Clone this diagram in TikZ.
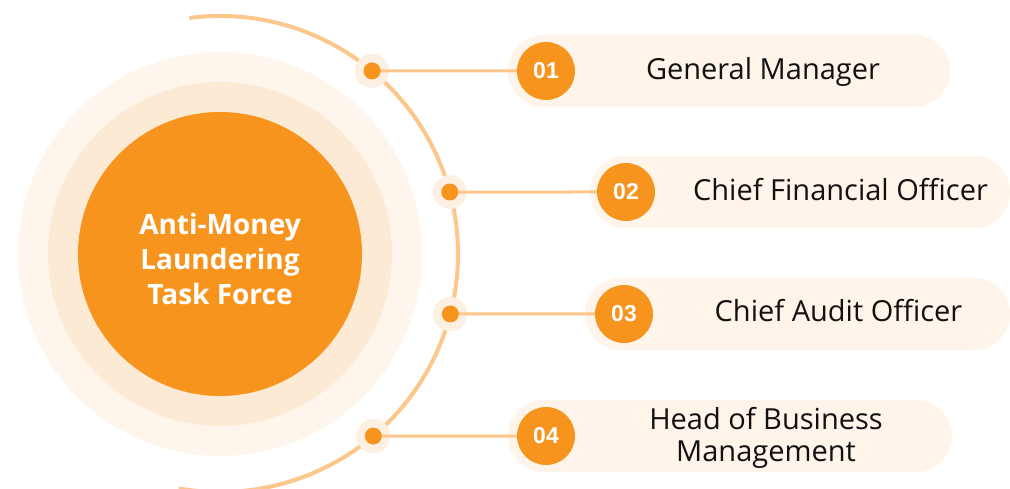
\documentclass[tikz,border=0pt]{standalone}
\usepackage{fontspec}
\setmainfont{Open Sans}
\newfontfamily\numfont{Liberation Sans}
\definecolor{ao}{HTML}{F7941E}
\definecolor{ringout}{HTML}{FEF5EC}
\definecolor{ringmid}{HTML}{FDEAD5}
\definecolor{pillc}{HTML}{FEF4EA}
\definecolor{linec}{HTML}{FDC78C}
\definecolor{haloc}{HTML}{FDF0E2}
\definecolor{txt}{HTML}{111111}
\tikzset{
  disc/.style={circle, inner sep=0pt, draw=none},
  pill/.style={rectangle, rounded corners=36pt, fill=pillc, minimum height=72pt, inner sep=0pt},
  numc/.style={circle, fill=ao, minimum size=58pt, inner sep=0pt, text=white,
     font=\numfont\bfseries\fontsize{23}{23}\selectfont},
  dotc/.style={circle, fill=ao, minimum size=17pt, inner sep=0pt},
  halo/.style={fill=haloc},
  conn/.style={draw=linec, line width=3pt},
  arcline/.style={draw=linec, line width=4pt},
  lab/.style={text=txt, font=\fontsize{29}{32}\selectfont, inner sep=0pt, align=center},
}
\begin{document}
\begin{tikzpicture}[x=1pt,y=1pt]
\useasboundingbox (0,0) rectangle (1010,488);
\clip (0,0) rectangle (1010,488);
\fill[white] (0,0) rectangle (1010,488);
\coordinate (C) at (220,234);
% concentric circles
\node[disc, fill=ringout, minimum size=404pt] (outer) at (C) {};
\node[disc, fill=ringmid, minimum size=344pt] (mid) at (C) {};
\node[disc, fill=ao, minimum size=284pt] (core) at (C) {};
\node[text=white, font=\bfseries\fontsize{28}{35}\selectfont, align=center, inner sep=0pt] (coretext) at (220,228.5) {Anti-Money\\Laundering\\Task Force};
% arc
\draw[arcline] ([shift={(97.4:238)}]C) arc[start angle=97.4, end angle=-100, radius=238];
% pills
\node[pill, minimum width=442pt] (p1) at (729,417) {};
\node[pill, minimum width=420pt] (p2) at (800,296) {};
\node[pill, minimum width=425pt] (p3) at (797.5,174) {};
\node[pill, minimum width=444pt] (p4) at (730,52) {};
% dots on arc
\coordinate (a1) at ([shift={(50.3:238)}]C);
\coordinate (a2) at ([shift={(15.1:238)}]C);
\coordinate (a3) at ([shift={(-14.6:238)}]C);
\coordinate (a4) at ([shift={(-49.9:238)}]C);
\foreach \i in {1,2,3,4} { \fill[halo] (a\i) circle (17); }
% number circles
\node[numc] (n1) at (546,417) {01};
\node[numc] (n2) at (626,296) {02};
\node[numc] (n3) at (624,174) {03};
\node[numc] (n4) at (546,52) {04};
% connectors
\draw[conn] (a1) -- (n1);
\draw[conn] (a2) -- (n2);
\draw[conn] (a3) -- (n3);
\draw[conn] (a4) -- (n4);
\node[dotc] (d1) at (a1) {};
\node[dotc] (d2) at (a2) {};
\node[dotc] (d3) at (a3) {};
\node[dotc] (d4) at (a4) {};
% labels
\node[lab, anchor=base] (l1) at (763,408.7) {General Manager};
\node[lab, anchor=base] (l2) at (840.5,287.3) {Chief Financial Officer};
\node[lab, anchor=base] (l3) at (838.5,166.3) {Chief Audit Officer};
\node[lab] (l4) at (766,50) {Head of Business\\Management};
\end{tikzpicture}
\end{document}
